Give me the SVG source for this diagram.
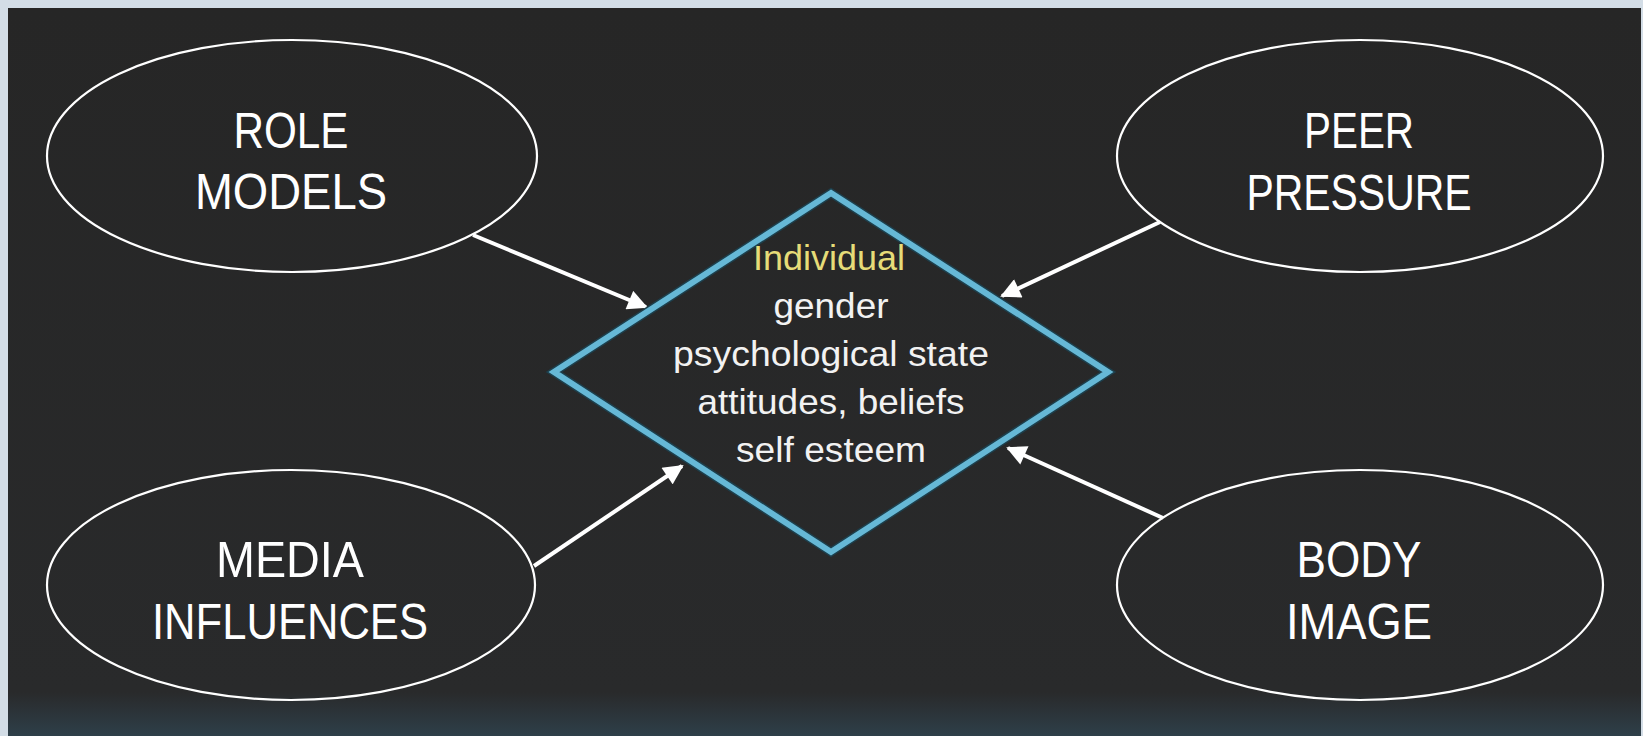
<svg xmlns="http://www.w3.org/2000/svg" width="1643" height="736" viewBox="0 0 1643 736">
<style>
.ell{fill:none;stroke:#ffffff;stroke-width:2.2}
.lbl{font-family:"Liberation Sans",Arial,sans-serif;font-size:50px;fill:#ffffff;text-anchor:middle}
.dtx{font-family:"Liberation Sans",Arial,sans-serif;font-size:35px;fill:#f2f2f2;text-anchor:middle}
.arr{stroke:#ffffff;stroke-width:4;fill:none;marker-end:url(#ah)}
</style>
<defs>
<linearGradient id="bg" x1="0" y1="0" x2="0" y2="1">
<stop offset="0" stop-color="#262626"/>
<stop offset="0.94" stop-color="#292a2b"/>
<stop offset="1" stop-color="#2e3f49"/>
</linearGradient>
<marker id="ah" viewBox="0 0 10 10" refX="9" refY="5" markerWidth="5.5" markerHeight="5" orient="auto" markerUnits="strokeWidth">
<path d="M0,0 L10,5 L0,10 Z" fill="#ffffff"/>
</marker>
</defs>
<rect x="0" y="0" width="1643" height="736" fill="#d3dde6"/>
<rect x="8" y="8" width="1633" height="728" fill="url(#bg)"/>

<g id="connectors">
<line class="arr" x1="473" y1="235" x2="646" y2="307"/>
<line class="arr" x1="1160" y1="222" x2="1002" y2="296"/>
<line class="arr" x1="534" y1="566" x2="682" y2="466"/>
<line class="arr" x1="1163" y1="518" x2="1008" y2="448"/>
</g>

<g id="role-models">
<ellipse class="ell" cx="292" cy="156" rx="245" ry="116"/>
<text class="lbl" x="291" y="148" textLength="115" lengthAdjust="spacingAndGlyphs">ROLE</text>
<text class="lbl" x="291" y="209" textLength="192" lengthAdjust="spacingAndGlyphs">MODELS</text>
</g>

<g id="peer-pressure">
<ellipse class="ell" cx="1360" cy="156" rx="243" ry="116"/>
<text class="lbl" x="1359" y="148" textLength="110" lengthAdjust="spacingAndGlyphs">PEER</text>
<text class="lbl" x="1359" y="210" textLength="225" lengthAdjust="spacingAndGlyphs">PRESSURE</text>
</g>

<g id="media-influences">
<ellipse class="ell" cx="291" cy="585" rx="244" ry="115"/>
<text class="lbl" x="290" y="577" textLength="148" lengthAdjust="spacingAndGlyphs">MEDIA</text>
<text class="lbl" x="290" y="639" textLength="276" lengthAdjust="spacingAndGlyphs">INFLUENCES</text>
</g>

<g id="body-image">
<ellipse class="ell" cx="1360" cy="585" rx="243" ry="115"/>
<text class="lbl" x="1359" y="577" textLength="125" lengthAdjust="spacingAndGlyphs">BODY</text>
<text class="lbl" x="1359" y="639" textLength="146" lengthAdjust="spacingAndGlyphs">IMAGE</text>
</g>

<g id="individual">
<polygon points="831,193 1108,372 831,552 554,372" fill="none" stroke="#1d3f4c" stroke-width="9" stroke-linejoin="miter"/>
<polygon points="831,193 1108,372 831,552 554,372" fill="none" stroke="#66b8d6" stroke-width="6" stroke-linejoin="miter"/>
<text class="dtx" x="829" y="270" fill="#e6dc78" style="fill:#e6dc78" textLength="152" lengthAdjust="spacingAndGlyphs">Individual</text>
<text class="dtx" x="831" y="318" textLength="115" lengthAdjust="spacingAndGlyphs">gender</text>
<text class="dtx" x="831" y="366" textLength="316" lengthAdjust="spacingAndGlyphs">psychological state</text>
<text class="dtx" x="831" y="414" textLength="267" lengthAdjust="spacingAndGlyphs">attitudes, beliefs</text>
<text class="dtx" x="831" y="462" textLength="190" lengthAdjust="spacingAndGlyphs">self esteem</text>
</g>
</svg>
